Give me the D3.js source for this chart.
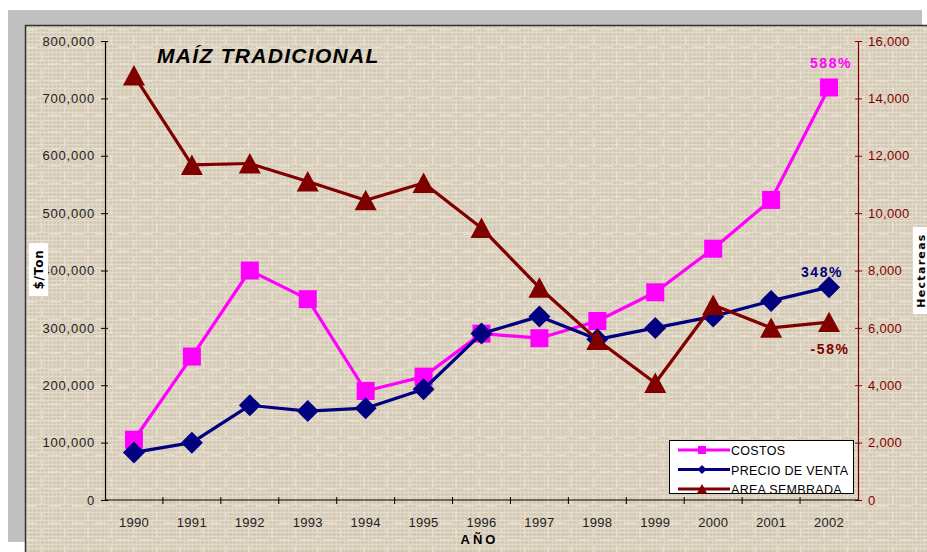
<!DOCTYPE html>
<html><head><meta charset="utf-8">
<script src="https://cdn.jsdelivr.net/npm/d3@7"></script>
<style>
body{margin:0;background:#fff;}
svg{display:block;font-family:Arial,"Liberation Sans",sans-serif;}
</style>
</head><body>
<svg id="chart" width="927" height="552"></svg>
<script>
// ---- data ----
const years = ["1990","1991","1992","1993","1994","1995","1996","1997","1998","1999","2000","2001","2002"];
const costos = [105000,250000,400000,350000,190000,215000,290000,282000,312000,362000,438000,523000,719000];
const precioVenta = [83000,100000,165000,155000,160000,193000,290000,320000,280000,300000,320000,347000,371000];
const areaSembrada = [14800,11680,11730,11100,10450,11050,9480,7400,5580,4080,6800,6000,6200];
const leftTicks = [0,100000,200000,300000,400000,500000,600000,700000,800000];
const rightTicks = [0,2000,4000,6000,8000,10000,12000,14000,16000];
const seriesNames = ["COSTOS","PRECIO DE VENTA","AREA SEMBRADA"];
const changeLabels = ["588%","348%","-58%"];
const titleText = "MAÍZ TRADICIONAL";
const leftAxisTitle = "$/Ton";
const rightAxisTitle = "Hectareas";
const xAxisTitle = "AÑO";

// ---- styles ----
const colors = ["#ff00ff","#000080","#800000"];
const svg = d3.select("#chart");
const fmt = d3.format(",");

const plot = {l:105, r:858, t:41, b:500};
const x = d3.scaleBand().domain(years).range([plot.l, plot.r]);
const yL = d3.scaleLinear().domain([0,800000]).range([plot.b, plot.t]);
const yR = d3.scaleLinear().domain([0,16000]).range([plot.b, plot.t]);
const cx = d => x(d) + x.bandwidth()/2;

// ---- texture ----
const defs = svg.append("defs");
const p1 = defs.append("pattern").attr("id","weave").attr("width",4).attr("height",4).attr("patternUnits","userSpaceOnUse");
p1.append("rect").attr("width",4).attr("height",4).attr("fill","#d8cdb9");
p1.append("rect").attr("width",4).attr("height",1).attr("fill","#e5ddce");
p1.append("rect").attr("width",1).attr("height",4).attr("fill","#e0d7c6");
p1.append("rect").attr("x",2).attr("y",2).attr("width",1).attr("height",1).attr("fill","#cfc3ad");
const p2 = defs.append("pattern").attr("id","weave2").attr("width",23).attr("height",17).attr("patternUnits","userSpaceOnUse");
p2.append("rect").attr("x",0).attr("y",7).attr("width",23).attr("height",1).attr("fill","#b8aa8f").attr("opacity",0.18);
p2.append("rect").attr("x",11).attr("y",0).attr("width",1).attr("height",17).attr("fill","#b8aa8f").attr("opacity",0.15);
p2.append("rect").attr("x",3).attr("y",12).attr("width",11).attr("height",2).attr("fill","#f0eadf").attr("opacity",0.5);
p2.append("rect").attr("x",18).attr("y",2).attr("width",2).attr("height",9).attr("fill","#f0eadf").attr("opacity",0.45);

// ---- frame ----
svg.append("rect").attr("x",8).attr("y",10).attr("width",914).attr("height",532).attr("fill","#c0c0c0");
svg.append("rect").attr("x",25).attr("y",25).attr("width",902).attr("height",527).attr("fill","url(#weave)");
svg.append("rect").attr("x",25).attr("y",25).attr("width",902).attr("height",527).attr("fill","url(#weave2)");
svg.append("path").attr("d","M25.5,552V25.5H927").attr("fill","none").attr("stroke","#333").attr("stroke-width",1.5);

// ---- axes ----
const gL = svg.append("g").attr("transform",`translate(${plot.l},0)`)
  .call(d3.axisLeft(yL).tickValues(leftTicks).tickFormat(fmt).tickSizeInner(4).tickSizeOuter(0).tickPadding(6));
gL.selectAll(".tick line").attr("x1",3).attr("stroke","#000");
gL.select(".domain").attr("stroke","#000").attr("stroke-width",1.2);
gL.selectAll(".tick text").attr("font-size",13).attr("fill","#222").attr("letter-spacing",0.8)
  .attr("font-family","Arial,'Liberation Sans',sans-serif");

const gR = svg.append("g").attr("transform",`translate(${plot.r},0)`)
  .call(d3.axisRight(yR).tickValues(rightTicks).tickFormat(fmt).tickSizeInner(4).tickSizeOuter(0).tickPadding(6));
gR.selectAll(".tick line").attr("x1",-3).attr("stroke","#800000");
gR.select(".domain").attr("stroke","#800000").attr("stroke-width",1.2);
gR.selectAll(".tick text").attr("font-size",13).attr("fill","#800000").attr("letter-spacing",0.3)
  .attr("font-family","Arial,'Liberation Sans',sans-serif");

const xTickScale = d3.scaleLinear().domain([0, years.length]).range([plot.l, plot.r]);
const gX = svg.append("g").attr("transform",`translate(0,${plot.b})`);
gX.append("line").attr("x1",plot.l).attr("x2",plot.r).attr("stroke","#000").attr("stroke-width",1.2);
gX.selectAll("line.tk").data(d3.range(1, years.length)).join("line").attr("class","tk")
  .attr("x1",d=>xTickScale(d)).attr("x2",d=>xTickScale(d)).attr("y1",-3).attr("y2",4).attr("stroke","#000");
gX.selectAll("text").data(years).join("text")
  .attr("x",d=>cx(d)).attr("y",27).attr("text-anchor","middle").attr("font-size",13).attr("fill","#222")
  .attr("letter-spacing",0.3).text(d=>d);

// ---- titles ----
svg.append("text").attr("x",157).attr("y",63).attr("font-size",21).attr("font-weight","bold").attr("font-style","italic")
  .attr("letter-spacing",1.3).attr("fill","#000").text(titleText);

svg.append("rect").attr("x",29).attr("y",243).attr("width",19).attr("height",53).attr("fill","#fff");
svg.append("text").attr("transform","translate(43,269.5) rotate(-90)").attr("text-anchor","middle")
  .attr("font-family","'DejaVu Sans',sans-serif").attr("font-weight","bold").attr("font-size",12).attr("letter-spacing",0.8)
  .attr("fill","#000").text(leftAxisTitle);

svg.append("rect").attr("x",913).attr("y",227).attr("width",14).attr("height",87).attr("fill","#fff");
svg.append("text").attr("transform","translate(924.5,270.5) rotate(-90)").attr("text-anchor","middle")
  .attr("font-family","'DejaVu Sans',sans-serif").attr("font-weight","bold").attr("font-size",11).attr("letter-spacing",1.3)
  .attr("fill","#000").text(rightAxisTitle);

svg.append("text").attr("x",(plot.l+plot.r)/2 - 2).attr("y",544).attr("text-anchor","middle")
  .attr("font-weight","bold").attr("font-size",13).attr("letter-spacing",3).attr("fill","#000").text(xAxisTitle);

// ---- series ----
const markers = {
  square: s => `M${-s},${-s}H${s}V${s}H${-s}Z`,
  diamond: s => `M0,${-s}L${s},0L0,${s}L${-s},0Z`,
  triangle: s => `M0,${-s}L${s*1.05},${s*0.95}H${-s*1.05}Z`
};
const series = [
  {values:costos, y:yL, color:colors[0], mk:"square", size:9},
  {values:precioVenta, y:yL, color:colors[1], mk:"diamond", size:11},
  {values:areaSembrada, y:yR, color:colors[2], mk:"triangle", size:10.5}
];
series.forEach(s => {
  const pts = years.map((yr,i)=>[cx(yr), s.y(s.values[i])]);
  svg.append("path").attr("d", d3.line()(pts)).attr("fill","none").attr("stroke",s.color).attr("stroke-width",3.2)
    .attr("stroke-linejoin","round");
  svg.append("g").selectAll("path").data(pts).join("path")
    .attr("transform",d=>`translate(${d[0]},${d[1]})`).attr("d",markers[s.mk](s.size)).attr("fill",s.color);
});

// ---- change labels ----
const last = years[years.length-1];
const lbl = [
  {t:changeLabels[0], x:cx(last)+2, y:yL(costos[12])-19, c:colors[0]},
  {t:changeLabels[1], x:cx(last)-7, y:yL(precioVenta[12])-10, c:colors[1]},
  {t:changeLabels[2], x:cx(last)+1, y:yR(areaSembrada[12])+32, c:colors[2]}
];
svg.append("g").selectAll("text").data(lbl).join("text")
  .attr("x",d=>d.x).attr("y",d=>d.y).attr("text-anchor","middle").attr("font-weight","bold").attr("font-size",14)
  .attr("letter-spacing",1.6).attr("fill",d=>d.c).text(d=>d.t);

// ---- legend ----
const lg = svg.append("g");
defs.append("clipPath").attr("id","lgclip").append("rect").attr("x",669).attr("y",440).attr("width",185).attr("height",54);
lg.append("rect").attr("x",669.5).attr("y",440.5).attr("width",184).attr("height",53).attr("fill","#fff").attr("stroke","#000");
const lgc = lg.append("g").attr("clip-path","url(#lgclip)");
const ly = d3.scalePoint().domain(seriesNames).range([450,489]);
seriesNames.forEach((n,i)=>{
  const yy = ly(n);
  lgc.append("line").attr("x1",678).attr("x2",730).attr("y1",yy).attr("y2",yy).attr("stroke",colors[i]).attr("stroke-width",3);
  lgc.append("path").attr("transform",`translate(702,${yy})`).attr("d",markers[series[i].mk](i===0?4:(i===1?4.5:5))).attr("fill",colors[i]);
  lgc.append("text").attr("x",731).attr("y",yy+5).attr("font-size",12.5).attr("letter-spacing",0.3).attr("fill","#000").text(n);
});
</script>
</body></html>
